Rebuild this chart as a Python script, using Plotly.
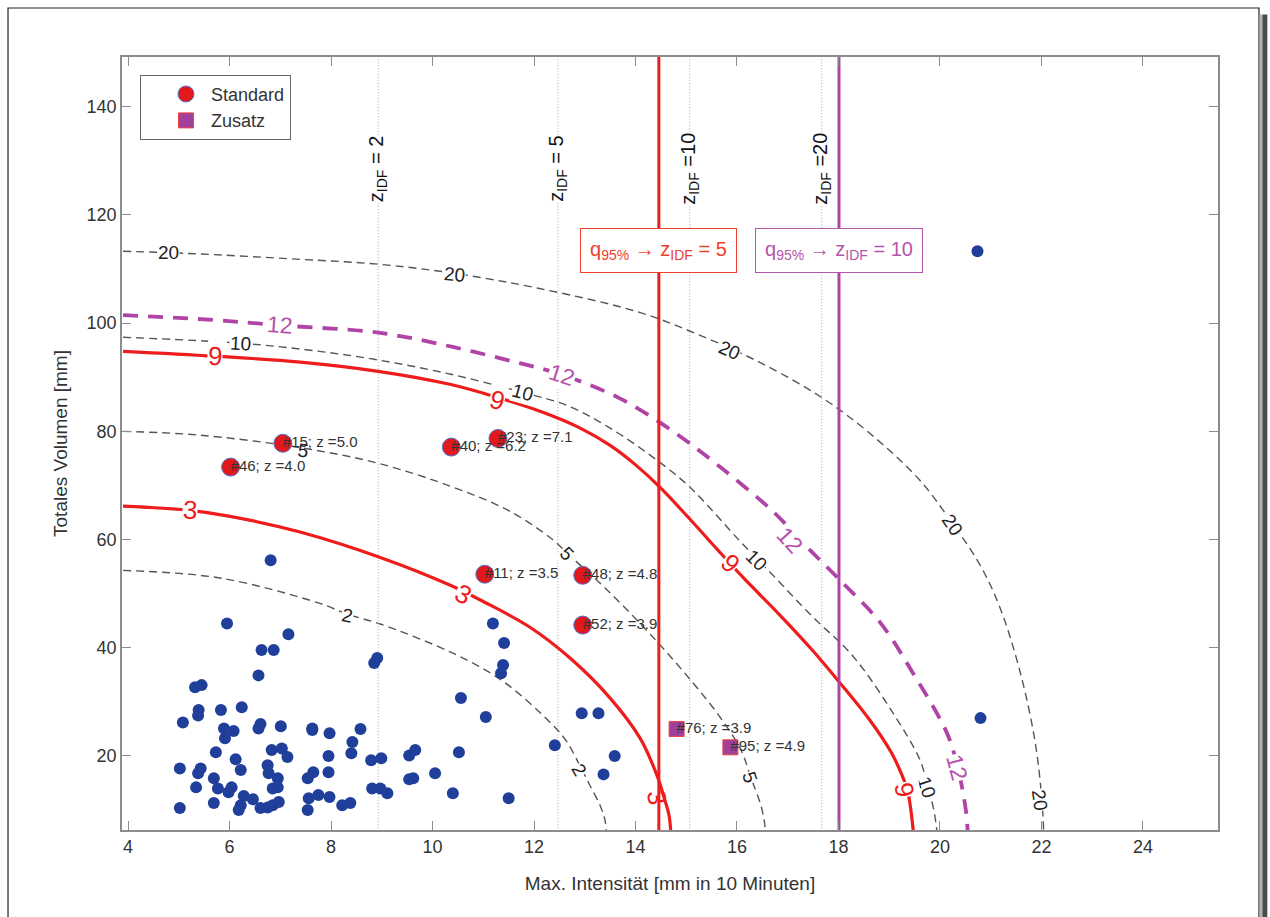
import plotly.graph_objects as go

FONT = "Liberation Sans, Arial, sans-serif"

# ---------------------------------------------------------------
# Niederschlagsereignisse: max. Intensität (mm/10 min) und Volumen (mm)
# ---------------------------------------------------------------
ev_int = [6.81, 5.95, 7.16, 6.63, 6.87, 6.57, 5.32, 5.45, 5.39, 5.38,
          5.83, 6.24, 5.08, 5.89, 5.91, 6.08, 6.57, 6.61, 7.01, 7.63,
          7.63, 7.97, 8.58, 8.42, 8.40, 8.85, 8.91, 11.19, 11.41, 11.39,
          11.35, 10.56, 11.05, 12.41, 5.73, 6.12, 6.22, 6.83, 7.03, 7.14,
          6.75, 6.77, 6.95, 7.95, 5.02, 5.43, 5.38, 5.34, 5.69, 5.77,
          6.04, 5.98, 6.28, 6.46, 6.22, 6.18, 6.61, 6.75, 6.85, 6.95,
          6.97, 6.85, 5.69, 5.02, 7.54, 7.65, 7.95, 7.56, 7.54, 7.75,
          7.97, 8.22, 8.38, 8.79, 8.99, 8.81, 8.97, 9.11, 9.54, 9.66,
          9.54, 9.62, 10.05, 10.52, 10.40, 11.50, 12.94, 13.27, 13.59, 13.37,
          20.74, 20.80]
ev_vol = [56.2, 44.5, 42.5, 39.6, 39.6, 34.9, 32.7, 33.1, 28.5, 27.5,
          28.5, 29.0, 26.2, 25.1, 23.3, 24.6, 25.1, 25.9, 25.5, 25.1,
          24.8, 24.2, 25.0, 22.6, 20.5, 37.2, 38.1, 44.5, 40.9, 36.8,
          35.3, 30.7, 27.2, 22.0, 20.7, 19.4, 17.4, 21.1, 21.4, 19.8,
          18.3, 16.8, 15.9, 20.0, 17.7, 17.7, 16.8, 14.2, 15.9, 14.0,
          14.2, 13.3, 12.6, 12.0, 10.9, 10.0, 10.4, 10.5, 10.9, 14.2,
          11.5, 14.0, 11.3, 10.4, 15.9, 17.0, 17.0, 12.2, 10.0, 12.8,
          12.4, 10.9, 11.3, 19.2, 19.6, 14.0, 14.0, 13.1, 20.1, 21.1,
          15.7, 15.9, 16.8, 20.7, 13.1, 12.2, 27.9, 27.9, 20.0, 16.6,
          113.3, 27.0]

# Standard-Ereignisse
std_id = [15, 46, 40, 23, 11, 48, 52]
std_int = [7.05, 6.02, 10.37, 11.29, 11.03, 12.96, 12.96]
std_vol = [77.8, 73.4, 77.1, 78.7, 53.6, 53.4, 44.2]
std_z = [5.0, 4.0, 6.2, 7.1, 3.5, 4.8, 3.9]

# Zusatz-Ereignisse
zus_id = [76, 95]
zus_int = [14.81, 15.87]
zus_vol = [25.0, 21.6]
zus_z = [3.9, 4.9]

# Isolinien der Jährlichkeit (grau gestrichelt)
iso2_x = [3.90, 5.81, 7.78, 8.32, 8.97, 10.40, 11.39, 12.37, 12.65, 12.91, 13.10,
          13.30, 13.40, 13.44]
iso2_y = [54.3, 52.9, 48.2, 46.2, 44.4, 39.0, 33.8, 25.7, 22.6, 18.1, 14.6,
          10.9, 8.1, 4.4]
iso5_x = [3.90, 5.42, 7.45, 8.93, 10.40, 11.53, 12.38, 12.65, 13.44, 14.36, 15.09,
          15.68, 16.08, 16.27, 16.47, 16.55, 16.57]
iso5_y = [80.0, 79.3, 76.9, 74.1, 69.7, 65.2, 59.9, 57.5, 50.7, 41.8, 34.0,
          27.0, 21.1, 16.1, 10.9, 7.2, 4.4]
iso10_x = [3.90, 6.21, 7.59, 8.93, 10.34, 11.78, 12.65, 13.50, 14.42, 15.07, 16.06,
           16.71, 17.44, 18.29, 19.07, 19.61, 19.75, 19.88, 19.96]
iso10_y = [97.4, 96.3, 95.0, 93.2, 90.6, 87.2, 84.8, 80.6, 74.7, 69.7, 59.7,
           53.4, 46.2, 38.4, 28.0, 19.2, 14.6, 10.0, 4.4]
iso20_x = [3.90, 5.16, 7.39, 8.93, 10.44, 12.11, 14.08, 15.26, 16.44, 17.63, 18.61,
           19.60, 20.23, 20.79, 21.18, 21.57, 21.87, 22.01, 22.05]
iso20_y = [113.3, 112.9, 111.8, 110.9, 109.2, 106.4, 102.0, 97.8, 92.8, 86.5, 79.7,
           71.0, 63.2, 55.3, 47.5, 35.9, 22.9, 11.8, 4.4]

# Grenzlinien (rot) und Zusatzgrenze (violett)
lim3_x = [3.90, 5.22, 6.01, 7.39, 8.97, 10.34, 10.99, 11.92, 12.71, 13.50, 14.09,
          14.42, 14.58, 14.66, 14.70]
lim3_y = [66.2, 65.4, 64.3, 61.4, 56.7, 51.6, 48.6, 43.8, 38.1, 30.7, 23.3,
          16.5, 11.8, 9.1, 5.4]
lim9_x = [3.90, 5.71, 7.39, 8.93, 10.34, 11.27, 12.12, 12.91, 13.50, 13.99, 14.48,
          15.07, 15.61, 16.12, 16.85, 17.50, 18.03, 18.62, 19.05, 19.25, 19.36,
          19.42, 19.47, 19.49]
lim9_y = [94.8, 93.9, 92.8, 91.1, 88.7, 86.3, 83.7, 80.6, 77.4, 73.9, 69.7,
          63.8, 58.2, 53.0, 46.0, 39.4, 33.5, 26.6, 20.5, 16.5, 13.7,
          10.5, 6.5, 4.4]
lim12_x = [3.90, 5.67, 7.00, 8.97, 10.40, 11.72, 12.51, 13.69, 14.74, 15.67, 16.71,
           17.34, 18.03, 18.82, 19.47, 20.14, 20.35, 20.51, 20.55]
lim12_y = [101.5, 100.6, 99.6, 98.2, 95.6, 92.6, 90.6, 86.1, 80.0, 73.4, 65.2,
           59.0, 52.5, 44.7, 35.3, 24.2, 17.9, 10.0, 5.4]

# Intensitäten der IDF-Jährlichkeiten und 95%-Quantile
idf_int = [8.93, 12.47, 15.07, 17.67]
idf_lbl = ["z<sub>IDF</sub> = 2", "z<sub>IDF</sub> = 5",
           "z<sub>IDF</sub> =10", "z<sub>IDF</sub> =20"]
q95_std = 14.46
q95_zus = 18.01

# Beschriftung der Isolinien: (Text, x, y, Winkel)
lab_gray = [("20", 4.79, 113.1, 0), ("20", 10.44, 109.0, 5), ("20", 15.86, 95.0, 24),
            ("20", 20.24, 62.8, 56), ("20", 21.97, 11.8, 82),
            ("10", 6.21, 96.3, 3), ("10", 11.78, 87.2, 15), ("10", 16.39, 56.2, 45),
            ("10", 19.74, 14.2, 72),
            ("5", 12.65, 57.5, 45), ("5", 16.26, 16.1, 72),
            ("2", 8.32, 46.0, 12), ("2", 12.90, 17.4, 60)]
lab_red = [("3", 5.22, 65.4, 3), ("3", 10.60, 49.9, 28),
           ("9", 5.71, 93.9, 2), ("9", 11.27, 85.8, 15), ("9", 15.86, 55.6, 45),
           ("9", 19.30, 13.7, 80)]
lab_purple = [("12", 7.0, 99.6, 4), ("12", 12.55, 90.4, 18), ("12", 17.04, 59.9, 48),
              ("12", 20.33, 17.9, 75)]

X_RANGE = [3.88, 25.48]
Y_RANGE = [6.32, 149.2]

RED = "#ee1c1c"
PURPLE = "#b044a6"
BLUE = "#203f9a"
GRAY = "#555555"

fig = go.Figure()

# Isolinien grau
for xs, ys in [(iso2_x, iso2_y), (iso5_x, iso5_y), (iso10_x, iso10_y), (iso20_x, iso20_y)]:
    fig.add_trace(go.Scatter(x=xs, y=ys, mode="lines", showlegend=False, hoverinfo="skip",
                             line=dict(color=GRAY, width=1.4, dash="8px,5px",
                                       shape="spline", smoothing=1.0)))

# IDF-Intensitäten (gepunktet)
for xv in idf_int:
    fig.add_trace(go.Scatter(x=[xv, xv], y=[0, 200], mode="lines", showlegend=False,
                             hoverinfo="skip",
                             line=dict(color="#a8a8a8", width=1, dash="1px,2px")))

# Grenzlinien
for xs, ys in [(lim3_x, lim3_y), (lim9_x, lim9_y)]:
    fig.add_trace(go.Scatter(x=xs, y=ys, mode="lines", showlegend=False, hoverinfo="skip",
                             line=dict(color=RED, width=3.2, shape="spline", smoothing=1.0)))
fig.add_trace(go.Scatter(x=lim12_x, y=lim12_y, mode="lines", showlegend=False,
                         hoverinfo="skip",
                         line=dict(color=PURPLE, width=3.8, dash="15px,10px",
                                   shape="spline", smoothing=1.0)))

# 95%-Quantile
fig.add_trace(go.Scatter(x=[q95_std, q95_std], y=[0, 200], mode="lines", showlegend=False,
                         hoverinfo="skip", line=dict(color=RED, width=3)))
fig.add_trace(go.Scatter(x=[q95_zus, q95_zus], y=[0, 200], mode="lines", showlegend=False,
                         hoverinfo="skip", line=dict(color=PURPLE, width=3)))

# Alle Ereignisse
fig.add_trace(go.Scatter(x=ev_int, y=ev_vol, mode="markers", showlegend=False,
                         marker=dict(color=BLUE, size=12, line=dict(width=0))))

# Standard / Zusatz
fig.add_trace(go.Scatter(x=std_int, y=std_vol, mode="markers", name="Standard",
                         marker=dict(color="#e3181c", size=18, symbol="circle",
                                     line=dict(color="#4a78d0", width=1))))
fig.add_trace(go.Scatter(x=zus_int, y=zus_vol, mode="markers", name="Zusatz",
                         marker=dict(color="#a0409a", size=15, symbol="square",
                                     line=dict(color="#f04040", width=1))))

# Ereignisbeschriftung
fig.add_trace(go.Scatter(
    x=std_int + zus_int, y=std_vol + zus_vol, mode="text", showlegend=False,
    text=[f"#{i}; z ={z:.1f}" for i, z in zip(std_id + zus_id, std_z + zus_z)],
    textposition="middle right",
    textfont=dict(family=FONT, size=15, color="#333333")))

ann = []
for t, x, y, a in lab_gray:
    ann.append(dict(x=x, y=y, text=t, showarrow=False, textangle=a,
                    font=dict(family=FONT, size=19, color="#222222"),
                    bgcolor="white", borderpad=0))
# Label "5" liegt über der Ereignisbeschriftung
ann.append(dict(x=7.45, y=76.5, text="5", showarrow=False, textangle=8,
                font=dict(family=FONT, size=19, color="#222222")))
for t, x, y, a in lab_red:
    ann.append(dict(x=x, y=y, text=t, showarrow=False, textangle=a,
                    font=dict(family=FONT, size=26, color=RED),
                    bgcolor="white", borderpad=0))
ann.append(dict(x=14.42, y=12.4, text="3", showarrow=False, textangle=80,
                font=dict(family=FONT, size=26, color=RED)))
for t, x, y, a in lab_purple:
    ann.append(dict(x=x, y=y, text=t, showarrow=False, textangle=a,
                    font=dict(family=FONT, size=23, color="#b650ac"),
                    bgcolor="white", borderpad=0))

for xv, lbl in zip(idf_int, idf_lbl):
    ann.append(dict(x=xv, y=128.5, text=lbl, showarrow=False, textangle=-90,
                    font=dict(family=FONT, size=20, color="#111111"),
                    bgcolor="white", borderpad=0))

ann.append(dict(x=q95_std, y=113.5, text="q<sub>95%</sub> → z<sub>IDF</sub> = 5",
                showarrow=False, font=dict(family=FONT, size=20, color="#f0402c"),
                bgcolor="white", bordercolor="#f0402c", borderwidth=1, borderpad=9))
ann.append(dict(x=q95_zus, y=113.5, text="q<sub>95%</sub> → z<sub>IDF</sub> = 10",
                showarrow=False, font=dict(family=FONT, size=20, color="#b455ab"),
                bgcolor="white", bordercolor="#b455ab", borderwidth=1, borderpad=9))

# Rahmen um die Abbildung
shapes = [
    dict(type="rect", xref="paper", yref="paper", x0=-0.104, x1=1.0374, y0=-0.2, y1=1.0634,
         line=dict(color="#222222", width=1.2), fillcolor="rgba(0,0,0,0)", layer="below"),
    dict(type="rect", xref="paper", yref="paper", x0=1.0378, x1=1.0405, y0=-0.2, y1=1.055,
         line=dict(width=0), fillcolor="#b0b0b0", layer="below"),
    dict(type="rect", xref="paper", yref="paper", x0=1.0405, x1=1.0450, y0=-0.2, y1=1.055,
         line=dict(width=0), fillcolor="#4a4a4a", layer="below"),
]

axis_common = dict(showgrid=False, zeroline=False, showline=True, linecolor="#8c8c8c",
                   linewidth=1.5, mirror="allticks", ticks="inside", ticklen=9,
                   tickcolor="#8c8c8c", tickwidth=1.2,
                   tickfont=dict(family=FONT, size=18, color="#333333"))

fig.update_layout(
    width=1270, height=917, autosize=False,
    margin=dict(l=122, r=52, t=57, b=87),
    paper_bgcolor="white", plot_bgcolor="white",
    font=dict(family=FONT),
    xaxis=dict(range=X_RANGE, tickvals=list(range(4, 25, 2)),
               title=dict(text="Max. Intensität [mm in 10 Minuten]",
                          font=dict(family=FONT, size=19, color="#333333"), standoff=20),
               **axis_common),
    yaxis=dict(range=Y_RANGE, tickvals=list(range(20, 141, 20)),
               title=dict(text="Totales Volumen [mm]",
                          font=dict(family=FONT, size=19, color="#333333"), standoff=14),
               **axis_common),
    legend=dict(x=0.0164, y=0.977, xanchor="left", yanchor="top", bgcolor="white",
                bordercolor="#666666", borderwidth=1, indentation=20,
                font=dict(family=FONT, size=18, color="#333333"),
                itemwidth=40, tracegroupgap=0),
    annotations=ann,
    shapes=shapes,
)

fig.write_html("out.html")
